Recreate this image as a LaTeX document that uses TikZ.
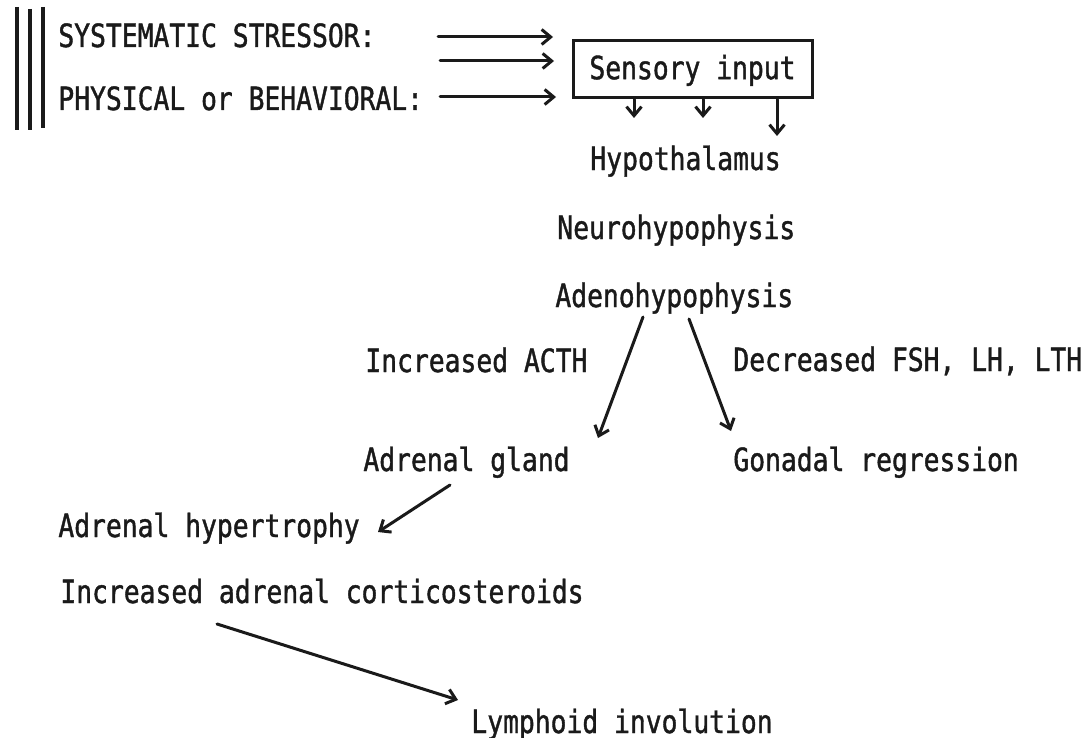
\documentclass[tikz,border=0pt]{standalone}
\usepackage{fontspec}
\setmonofont[FakeStretch=0.823,FakeBold=1.2]{DejaVu Sans Mono}
\usetikzlibrary{arrows.meta}
\definecolor{ink}{HTML}{1A1A1A}
\begin{document}
\begin{tikzpicture}[x=0.5pt,y=-0.5pt,
  lbl/.style={anchor=base west, inner sep=0pt, font=\fontsize{16}{19}\selectfont\ttfamily, text=ink},
  arr/.style={draw=ink, line width=1.5pt, line cap=round, -{Straight Barb[length=4.5pt,width=7.5pt]}},
  bar/.style={draw=ink, line width=1.8pt},
  boxst/.style={draw=ink, line width=1.5pt, inner sep=0pt, minimum width=119.5pt, minimum height=28.5pt,
    text height=11.7pt, text depth=2pt, font=\fontsize{16}{19}\selectfont\ttfamily, text=ink}]
\useasboundingbox[fill=white] (0,0) rectangle (1091,738);

% vertical bars
\coordinate (b1t) at (17,7);   \coordinate (b1b) at (17,130);
\coordinate (b2t) at (30,9);   \coordinate (b2b) at (30,130);
\coordinate (b3t) at (43,7);   \coordinate (b3b) at (43,128);
\draw[bar] (b1t) -- (b1b);
\draw[bar] (b2t) -- (b2b);
\draw[bar] (b3t) -- (b3b);

% stressor labels
\node[lbl] (sys) at (58,47) {SYSTEMATIC STRESSOR:};
\node[lbl] (phy) at (58,110) {PHYSICAL or BEHAVIORAL:};

% sensory input box
\node[boxst] (box) at (692.5,69.5) {Sensory input};

% input arrows
\coordinate (s1a) at (438,37); \coordinate (s1b) at (553,37);
\coordinate (s2a) at (440,61); \coordinate (s2b) at (554,61);
\coordinate (s3a) at (440,97); \coordinate (s3b) at (556,97);
\draw[arr] (s1a) -- (s1b);
\draw[arr] (s2a) -- (s2b);
\draw[arr] (s3a) -- (s3b);

% output arrows from box
\coordinate (d1) at (634,118);
\coordinate (d2) at (703,118);
\coordinate (d3) at (777,136);
\draw[arr] (box.south -| d1) -- (d1);
\draw[arr] (box.south -| d2) -- (d2);
\draw[arr] (box.south -| d3) -- (d3);

% chain
\node[lbl] (hyp) at (590,170) {Hypothalamus};
\node[lbl] (neu) at (557,239) {Neurohypophysis};
\node[lbl] (ade) at (555,307) {Adenohypophysis};

\node[lbl] (acth) at (365,372) {Increased ACTH};
\node[lbl] (fsh) at (733,371) {Decreased FSH, LH, LTH};

\coordinate (la) at (643,317); \coordinate (lb) at (598,438);
\coordinate (ra) at (689,319); \coordinate (rb) at (731,431);
\draw[arr] (la) -- (lb);
\draw[arr] (ra) -- (rb);

\node[lbl] (agl) at (363,471) {Adrenal gland};
\node[lbl] (gon) at (733,471) {Gonadal regression};

\node[lbl] (ahy) at (58,537) {Adrenal hypertrophy};
\coordinate (ha) at (450,485); \coordinate (hb) at (378,532);
\draw[arr] (ha) -- (hb);

\node[lbl] (cort) at (60,603) {Increased adrenal corticosteroids};
\coordinate (ca) at (217,624); \coordinate (cb) at (458,700);
\draw[arr] (ca) -- (cb);

\node[lbl] (lym) at (471,733) {Lymphoid involution};
\end{tikzpicture}
\end{document}
